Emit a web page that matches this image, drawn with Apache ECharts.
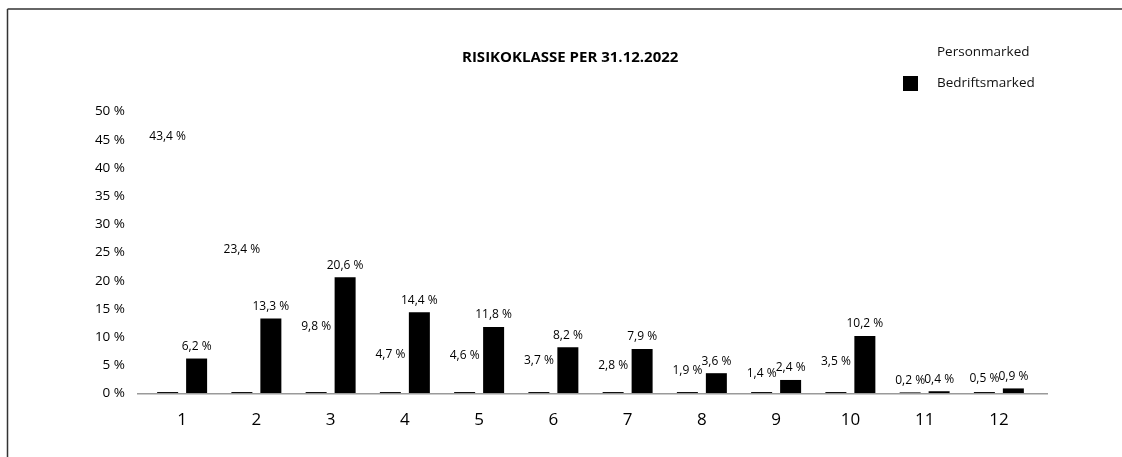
<!DOCTYPE html>
<html>
<head>
<meta charset="utf-8">
<script src="https://cdn.jsdelivr.net/npm/echarts@6/dist/echarts.min.js"></script>
<style>html,body{margin:0;padding:0;background:#fff;}#c{width:1122px;height:457px;}</style>
</head>
<body>
<div id="c"></div>
<script>
var categories = ['1','2','3','4','5','6','7','8','9','10','11','12'];
var personmarked = [43.4, 23.4, 9.8, 4.7, 4.6, 3.7, 2.8, 1.9, 1.4, 3.5, 0.2, 0.5];
var bedriftsmarked = [6.2, 13.3, 20.6, 14.4, 11.8, 8.2, 7.9, 3.6, 2.4, 10.2, 0.4, 0.9];
var titleText = 'RISIKOKLASSE PER 31.12.2022';
var seriesNames = ['Personmarked', 'Bedriftsmarked'];

var FONT = '"Open Sans", sans-serif';
var GRID_BOTTOM = 63.5;
var BASE_Y = 457 - GRID_BOTTOM;
function fmt(v) { return v.toFixed(1).replace('.', ',') + ' %'; }

// white bar with a thin dark base line at the axis
var personFill = new echarts.graphic.LinearGradient(0, BASE_Y - 4, 0, BASE_Y, [
  {offset: 0, color: '#ffffff'},
  {offset: 0.55, color: '#ffffff'},
  {offset: 0.56, color: '#111111'},
  {offset: 1, color: '#111111'}
], true);

var chart = echarts.init(document.getElementById('c'), null, {renderer: 'canvas'});
chart.setOption({
  animation: false,
  backgroundColor: '#fff',
  textStyle: {fontFamily: FONT},
  graphic: [
    {type: 'line', shape: {x1: 7.5, y1: 9, x2: 1122, y2: 9}, style: {stroke: '#333', lineWidth: 1.5}},
    {type: 'line', shape: {x1: 7.5, y1: 9, x2: 7.5, y2: 457}, style: {stroke: '#333', lineWidth: 1.5}},
    {type: 'line', z: 100, shape: {x1: 137, y1: BASE_Y + 0.25, x2: 1048, y2: BASE_Y + 0.25}, style: {stroke: '#9a9a9a', lineWidth: 1.5}}
  ],
  title: {
    text: titleText,
    left: 457, top: 45,
    textStyle: {fontFamily: FONT, fontWeight: 'bold', fontSize: 15, color: '#000'}
  },
  legend: {
    orient: 'vertical',
    left: 898, top: 40,
    itemWidth: 15, itemHeight: 15, itemGap: 16,
    icon: 'rect',
    data: seriesNames,
    textStyle: {fontFamily: FONT, fontSize: 13.5, color: '#111', padding: [0, 0, 0, 14]}
  },
  grid: {left: 145, right: 86, top: 111.5, bottom: GRID_BOTTOM, containLabel: false},
  xAxis: {
    type: 'category',
    data: categories,
    axisLine: {show: false},
    axisTick: {show: false},
    axisLabel: {fontFamily: FONT, fontSize: 17, color: '#000', margin: 18}
  },
  yAxis: {
    type: 'value',
    min: 0, max: 50, interval: 5,
    splitLine: {show: false},
    axisLine: {show: false},
    axisTick: {show: false},
    axisLabel: {fontFamily: FONT, fontSize: 13.5, color: '#000', margin: 20, formatter: '{value} %'}
  },
  series: [
    {
      name: seriesNames[0],
      type: 'bar',
      data: personmarked,
      barWidth: 21,
      barGap: '38%',
      itemStyle: {color: personFill},
      label: {show: true, position: 'top', distance: 6, fontFamily: FONT, fontSize: 12, color: '#000',
        formatter: function (p) { return fmt(p.value); }}
    },
    {
      name: seriesNames[1],
      type: 'bar',
      data: bedriftsmarked,
      barWidth: 21,
      itemStyle: {color: '#000'},
      label: {show: true, position: 'top', distance: 6, fontFamily: FONT, fontSize: 12, color: '#000',
        formatter: function (p) { return fmt(p.value); }},
      labelLayout: {moveOverlap: 'shiftY'}
    }
  ]
});
</script>
</body>
</html>
